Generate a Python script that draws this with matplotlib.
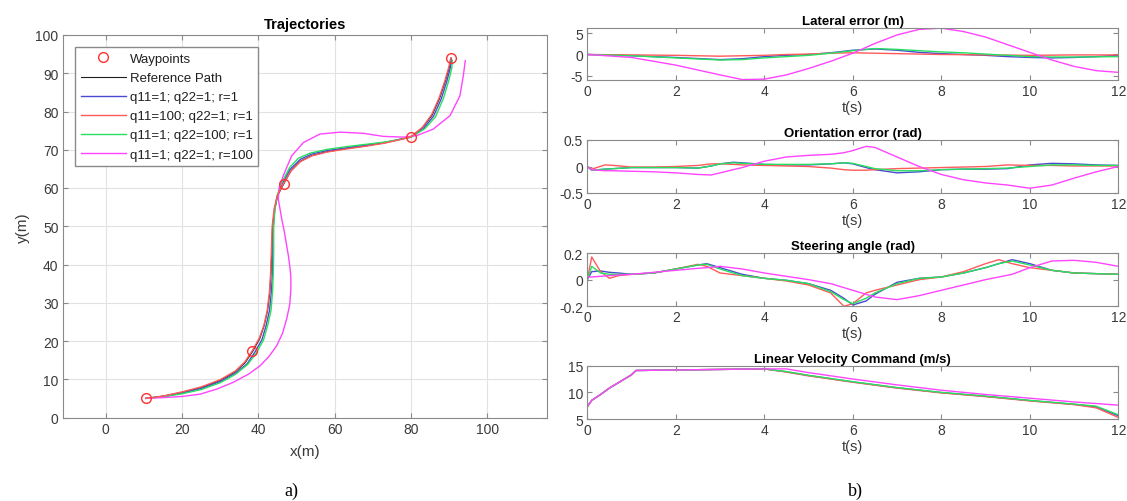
import matplotlib
matplotlib.use("Agg")
import matplotlib.pyplot as plt
import numpy as np

plt.rcParams['font.family'] = ['Liberation Sans', 'DejaVu Sans']

# ---------------- data: trajectories ----------------
wp_x = [10.5, 38.4, 46.6, 79.9, 90.5]
wp_y = [5.0, 17.4, 61.1, 73.4, 94.0]

ref_x = [10.5, 15, 20, 25, 30, 34, 36.5, 38.5, 40.3, 41.5, 42.4, 43.0, 43.3, 43.5, 43.7, 44.2, 45.0, 46.6,
         48.5, 51, 54, 58, 63, 68, 73, 77, 80, 83, 85.5, 87.5, 89, 90, 90.5]
ref_y = [5.0, 5.6, 6.6, 7.8, 9.7, 12.0, 14.3, 17.3, 20.5, 24, 28, 33, 38, 44, 50, 54.5, 58.0, 61.0,
         64.5, 67.0, 68.5, 69.5, 70.3, 71.0, 71.8, 72.7, 73.4, 75.8, 79, 83.5, 88, 91.5, 94]

blue_x = [10.5, 15, 20, 25, 30, 34, 37, 39.0, 40.9, 42.0, 42.9, 43.4, 43.7, 43.8, 43.9, 44.3, 45.0, 46.3,
          48.3, 51, 54, 58, 63, 68, 73, 77, 80, 83.3, 85.9, 87.9, 89.4, 90.3, 90.6]
blue_y = [5.0, 5.5, 6.4, 7.6, 9.4, 11.6, 14.0, 17.0, 20.3, 24, 28, 33, 38, 44, 50, 54.5, 58.0, 61.2,
          64.9, 67.5, 68.9, 69.8, 70.5, 71.2, 71.9, 72.7, 73.3, 75.6, 78.8, 83.3, 88, 91.5, 93.5]

red_x = [10.5, 15, 20, 25, 30, 34, 36.4, 38.4, 40.2, 41.4, 42.3, 42.9, 43.2, 43.4, 43.6, 44.1, 44.9, 46.5,
         48.5, 51, 54, 58, 63, 68, 73, 77, 80, 83, 85.4, 87.4, 88.9, 89.9, 90.4]
red_y = [5.0, 5.6, 6.7, 8.0, 9.9, 12.2, 14.5, 17.5, 20.7, 24, 28, 33, 38, 44, 50, 54.5, 58.0, 61.0,
         64.4, 66.9, 68.4, 69.4, 70.2, 70.9, 71.7, 72.6, 73.4, 75.9, 79.2, 83.7, 88.2, 91.7, 94]

green_x = [10.5, 15, 20, 25, 30, 34, 37.2, 39.4, 41.3, 42.4, 43.3, 43.7, 43.9, 44.0, 44.0, 44.3, 44.9, 46.2,
           48.2, 50.5, 53.5, 58, 63, 68, 73, 77, 80, 83.6, 86.4, 88.5, 90.0, 90.7, 90.8]
green_y = [5.0, 5.4, 6.2, 7.3, 9.1, 11.3, 13.9, 16.8, 20.2, 24, 28, 33, 38, 44, 50, 54.5, 58.0, 61.6,
           65.4, 67.8, 69.1, 70.1, 70.8, 71.4, 72.0, 72.7, 73.3, 75.5, 78.6, 83.5, 88.5, 91.5, 93.3]

mag_x = [10.5, 15, 20, 24.7, 29, 33.4, 37.5, 40.4, 42.8, 44.8, 46.3, 47.4, 48.2, 48.5, 48.5, 48.3, 47.9, 47.4,
         46.8, 46.1, 45.6, 45.2, 45.4, 46.5, 48.7, 51.8, 56.1, 61.4, 67.5, 72.7, 78.0, 81.5, 85.8, 90.2,
         92.8, 93.7, 94.2]
mag_y = [5.0, 5.2, 5.5, 6.1, 7.4, 9.2, 11.4, 13.5, 16.0, 18.8, 22.0, 25.8, 29.5, 33.6, 36.5, 38.8, 42.0, 44.9,
         48.5, 51.9, 54.8, 57.1, 60.0, 63.2, 68.4, 71.9, 74.1, 74.6, 74.3, 73.5, 73.3, 73.7, 75.4, 78.9,
         84.1, 89.4, 93.3]

# ---------------- data: time series ----------------
lat_t = [0, 1, 2, 3, 3.5, 4, 4.5, 5, 5.5, 6, 6.5, 7, 7.5, 8, 8.5, 9, 9.5, 10, 10.5, 11, 11.5, 12]
lat_mag = [0, -0.7, -2.5, -4.8, -5.9, -5.8, -4.8, -3.3, -1.6, 0.3, 2.6, 4.6, 5.9, 6.2, 5.4, 4.1, 2.3, 0.5,
           -1.3, -2.8, -3.8, -4.2]
lat_blue = [0, -0.3, -0.7, -1.2, -1.0, -0.5, -0.2, 0.0, 0.4, 1.0, 1.3, 1.0, 0.5, 0.2, 0.0, -0.2, -0.5, -0.7,
            -0.8, -0.7, -0.5, -0.2]
lat_green = [0, -0.3, -0.8, -1.3, -1.2, -0.8, -0.5, -0.2, 0.3, 0.9, 1.4, 1.2, 0.9, 0.6, 0.4, 0.1, -0.2, -0.5,
             -0.6, -0.6, -0.55, -0.5]
lat_red = [0, -0.1, -0.2, -0.4, -0.3, -0.2, 0.0, 0.1, 0.3, 0.4, 0.3, 0.2, 0.1, 0.0, -0.05, -0.1, -0.15, -0.2,
           -0.15, -0.1, -0.1, -0.1]

ori_t = [0, 0.1, 0.4, 0.6, 1, 1.5, 2, 2.5, 2.8, 3, 3.3, 3.5, 4, 4.5, 5, 5.5, 5.8, 6, 6.3, 6.5, 7, 7.5, 8,
         8.5, 9, 9.5, 10, 10.5, 11, 11.5, 12]
ori_mag = [0, -0.06, -0.08, -0.08, -0.09, -0.10, -0.12, -0.15, -0.16, -0.12, -0.06, -0.02, 0.10, 0.18, 0.21,
           0.23, 0.26, 0.30, 0.38, 0.36, 0.18, 0.0, -0.15, -0.25, -0.31, -0.35, -0.41, -0.35, -0.22, -0.10, 0.0]
ori_blue = [0, -0.07, -0.05, -0.04, -0.02, -0.02, -0.02, -0.03, 0.01, 0.05, 0.08, 0.07, 0.04, 0.03, 0.03,
            0.05, 0.07, 0.05, -0.02, -0.06, -0.12, -0.10, -0.06, -0.05, -0.05, -0.04, 0.03, 0.06, 0.05, 0.03, 0.02]
ori_green = [0, -0.07, -0.05, -0.04, -0.02, -0.02, -0.02, -0.03, 0.01, 0.05, 0.07, 0.06, 0.04, 0.04, 0.04,
             0.05, 0.07, 0.06, 0.0, -0.04, -0.08, -0.08, -0.06, -0.05, -0.04, -0.03, 0.0, 0.03, 0.03, 0.02, 0.02]
ori_red = [0, -0.05, 0.03, 0.02, -0.01, -0.01, 0.0, 0.02, 0.05, 0.05, 0.04, 0.03, 0.02, 0.01, 0.0, -0.03,
           -0.06, -0.07, -0.07, -0.06, -0.04, -0.03, -0.02, -0.01, 0.0, 0.03, 0.02, 0.02, 0.01, 0.01, 0.01]

st_t = [0, 0.1, 0.3, 0.5, 0.7, 1, 1.5, 2, 2.5, 2.7, 3, 3.5, 4, 4.5, 5, 5.5, 5.8, 6, 6.3, 6.5, 7, 7.5, 8,
        8.5, 9, 9.3, 9.6, 10, 10.5, 11, 11.5, 12]
st_red = [0.0, 0.17, 0.06, 0.01, 0.03, 0.04, 0.05, 0.08, 0.115, 0.10, 0.05, 0.03, 0.01, -0.01, -0.04, -0.10,
          -0.20, -0.18, -0.10, -0.08, -0.04, 0.0, 0.02, 0.06, 0.12, 0.15, 0.12, 0.09, 0.07, 0.05, 0.045, 0.04]
st_green = [0.0, 0.10, 0.05, 0.04, 0.04, 0.04, 0.05, 0.08, 0.11, 0.115, 0.08, 0.03, 0.01, -0.005, -0.03,
            -0.09, -0.15, -0.18, -0.14, -0.10, -0.03, 0.01, 0.02, 0.05, 0.09, 0.12, 0.14, 0.11, 0.07, 0.05, 0.045, 0.04]
st_blue = [0.0, 0.06, 0.065, 0.055, 0.05, 0.04, 0.05, 0.08, 0.11, 0.12, 0.09, 0.04, 0.01, -0.005, -0.03,
           -0.08, -0.14, -0.19, -0.16, -0.11, -0.02, 0.01, 0.02, 0.05, 0.09, 0.12, 0.15, 0.12, 0.07, 0.05, 0.045, 0.04]
st_mag = [0.02, 0.02, 0.025, 0.03, 0.035, 0.04, 0.055, 0.07, 0.085, 0.09, 0.10, 0.08, 0.05, 0.025, 0.0, -0.03,
          -0.06, -0.08, -0.11, -0.13, -0.15, -0.12, -0.08, -0.04, 0.0, 0.02, 0.04, 0.09, 0.14, 0.145, 0.13, 0.10]

vel_t = [0, 0.1, 0.3, 0.5, 1.0, 1.1, 2, 3, 4, 4.5, 5, 6, 7, 8, 9, 10, 11, 11.5, 12]
vel_red = [7.3, 8.5, 9.6, 10.8, 13.3, 14.1, 14.2, 14.3, 14.4, 13.8, 13.1, 11.9, 10.8, 9.9, 9.2, 8.4, 7.7, 7.1, 5.3]
vel_green = [7.3, 8.5, 9.6, 10.8, 13.3, 14.1, 14.2, 14.3, 14.4, 13.9, 13.2, 12.0, 10.9, 10.0, 9.3, 8.5, 7.8, 7.4, 5.8]
vel_blue = [7.3, 8.5, 9.6, 10.8, 13.3, 14.1, 14.2, 14.3, 14.4, 13.85, 13.15, 11.95, 10.85, 9.95, 9.25, 8.45, 7.75, 7.3, 5.6]
vel_mag = [7.3, 8.5, 9.6, 10.8, 13.3, 14.1, 14.2, 14.3, 14.4, 14.4, 13.7, 12.5, 11.4, 10.4, 9.6, 8.9, 8.2, 7.9, 7.6]

legend_labels = ['Waypoints', 'Reference Path', 'q11=1; q22=1; r=1', 'q11=100; q22=1; r=1',
                 'q11=1; q22=100; r=1', 'q11=1; q22=1; r=100']

C_BLUE = '#4a4ad0'
C_RED = '#ff5a5a'
C_GREEN = '#28e060'
C_MAG = '#ff44ff'
EDGE = '#8a8a8a'
TXT = '#3a3a3a'

fig = plt.figure(figsize=(11.27, 5.02), dpi=100)
W, H = 1127.0, 502.0


def pos(x0, y0, x1, y1):
    return [x0 / W, 1 - y1 / H, (x1 - x0) / W, (y1 - y0) / H]


def style(ax, fs=8.5):
    for s in ax.spines.values():
        s.set_color(EDGE)
        s.set_linewidth(0.8)
    ax.tick_params(direction='in', length=3.5, width=0.8, color=EDGE, labelcolor=TXT,
                   labelsize=fs, top=True, right=True, pad=3)


# ---------- left: trajectories ----------
ax = fig.add_axes(pos(62.7, 36, 547.3, 418.5))
ax.plot(wp_x, wp_y, 'o', mfc='none', mec='#ff3030', ms=7, mew=1.0, label=legend_labels[0], zorder=6)
ax.plot(ref_x, ref_y, color='#202020', lw=0.8, label=legend_labels[1], zorder=2)
ax.plot(blue_x, blue_y, color=C_BLUE, lw=1.0, label=legend_labels[2], zorder=3)
ax.plot(red_x, red_y, color=C_RED, lw=1.0, label=legend_labels[3], zorder=4)
ax.plot(green_x, green_y, color=C_GREEN, lw=1.0, label=legend_labels[4], zorder=3)
ax.plot(mag_x, mag_y, color=C_MAG, lw=1.0, label=legend_labels[5], zorder=3)
ax.set_xlim(-11.3, 115.7)
ax.set_ylim(0, 100)
ax.set_xticks([0, 20, 40, 60, 80, 100])
ax.set_yticks(range(0, 101, 10))
ax.grid(True, color='#e2e2e2', lw=0.8)
ax.set_axisbelow(True)
style(ax, fs=10)
ax.set_title('Trajectories', fontsize=10.5, fontweight='bold', pad=5)
ax.set_xlabel('x(m)', fontsize=11, color=TXT, labelpad=6)
ax.set_ylabel('y(m)', fontsize=11, color=TXT, labelpad=4)
leg = ax.legend(loc='upper left', bbox_to_anchor=(0.025, 0.969), fontsize=9.5, frameon=True,
                fancybox=False, edgecolor=EDGE, framealpha=1, handlelength=3.4,
                labelspacing=0.52, borderpad=0.45, handletextpad=0.3, borderaxespad=0)
leg.get_frame().set_linewidth(1.0)
for t in leg.get_texts():
    t.set_color('#202020')

# ---------- right: time series ----------
panels = [
    ((28.7, 81.0), 'Lateral error (m)', (-6, 6.3), [-5, 0, 5],
     lat_t, [lat_blue, lat_red, lat_green, lat_mag]),
    ((141.0, 194.0), 'Orientation error (rad)', (-0.5, 0.5), [-0.5, 0, 0.5],
     ori_t, [ori_blue, ori_red, ori_green, ori_mag]),
    ((254.0, 307.3), 'Steering angle (rad)', (-0.2, 0.2), [-0.2, 0, 0.2],
     st_t, [st_blue, st_red, st_green, st_mag]),
    ((366.7, 420.0), 'Linear Velocity Command (m/s)', (5, 15), [5, 10, 15],
     vel_t, [vel_blue, vel_red, vel_green, vel_mag]),
]
for (y0, y1), title, ylim, yt, tt, series in panels:
    a = fig.add_axes(pos(587.3, y0, 1118.3, y1))
    cols = [C_BLUE, C_RED, C_GREEN, C_MAG]
    for s, c in zip(series, cols):
        a.plot(tt, s, color=c, lw=1.0)
    a.set_xlim(0, 12)
    a.set_ylim(*ylim)
    a.set_xticks(range(0, 13, 2))
    a.set_yticks(yt)
    a.set_yticklabels([('%g' % v) for v in yt])
    style(a, fs=10)
    a.set_title(title, fontsize=9.5, fontweight='bold', pad=3)
    a.set_xlabel('t(s)', fontsize=10.5, color=TXT, labelpad=1)

fig.text(291 / W, 1 - 491 / H, 'a)', family='Liberation Serif', fontsize=13, ha='center', va='center')
fig.text(855 / W, 1 - 491 / H, 'b)', family='Liberation Serif', fontsize=13, ha='center', va='center')

fig.savefig('out.png', dpi=100)
